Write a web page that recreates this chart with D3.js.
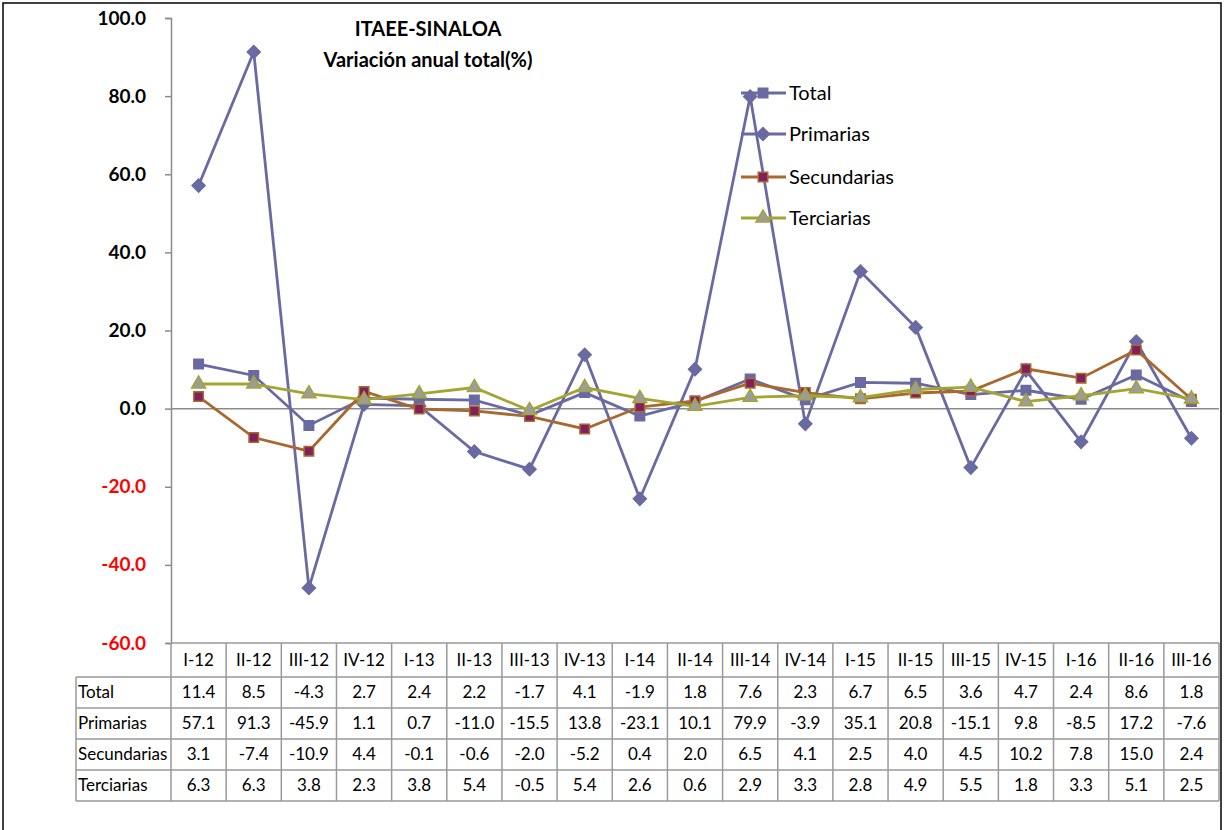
<!DOCTYPE html>
<html>
<head>
<meta charset="utf-8">
<script src="https://d3js.org/d3.v7.min.js"></script>
<style>
  body { margin: 0; background: #fff; }
  svg text { font-family: Lato, "Open Sans", sans-serif; }
</style>
</head>
<body>
<div class="chart"></div>
<script>
// quarters on the x axis
const quarters = ["I-12", "II-12", "III-12", "IV-12", "I-13", "II-13", "III-13", "IV-13",
  "I-14", "II-14", "III-14", "IV-14", "I-15", "II-15", "III-15", "IV-15", "I-16", "II-16", "III-16"];

const total = [11.4, 8.5, -4.3, 2.7, 2.4, 2.2, -1.7, 4.1, -1.9, 1.8, 7.6, 2.3, 6.7, 6.5, 3.6, 4.7, 2.4, 8.6, 1.8];
const primarias = [57.1, 91.3, -45.9, 1.1, 0.7, -11.0, -15.5, 13.8, -23.1, 10.1, 79.9, -3.9, 35.1, 20.8, -15.1, 9.8, -8.5, 17.2, -7.6];
const secundarias = [3.1, -7.4, -10.9, 4.4, -0.1, -0.6, -2.0, -5.2, 0.4, 2.0, 6.5, 4.1, 2.5, 4.0, 4.5, 10.2, 7.8, 15.0, 2.4];
const terciarias = [6.3, 6.3, 3.8, 2.3, 3.8, 5.4, -0.5, 5.4, 2.6, 0.6, 2.9, 3.3, 2.8, 4.9, 5.5, 1.8, 3.3, 5.1, 2.5];

const yTicks = [-60, -40, -20, 0, 20, 40, 60, 80, 100];

const series = [
  { name: "Total", values: total, line: "#6A6AA2", marker: "square", fill: "#6A6AA2", stroke: "#6A6AA2" },
  { name: "Primarias", values: primarias, line: "#6A6AA2", marker: "diamond", fill: "#6A6AA2", stroke: "#6A6AA2" },
  { name: "Secundarias", values: secundarias, line: "#A8682E", marker: "square", fill: "#80205E", stroke: "#A8682E" },
  { name: "Terciarias", values: terciarias, line: "#A3A533", marker: "triangle", fill: "#9C9C9C", stroke: "#A3A533" }
];

// excel style numbers, plain hyphen for negatives
const fmt = d => d3.format(".1f")(d).replace("\u2212", "-");

const width = 1225, height = 830;
const svg = d3.select(".chart").append("svg")
  .attr("width", width)
  .attr("height", height);

// outer frame
svg.append("rect")
  .attr("x", 3).attr("y", 3)
  .attr("width", 1218).attr("height", 840)
  .attr("fill", "none")
  .attr("stroke", "#000")
  .attr("stroke-width", 1.5);

const x = d3.scaleBand().domain(quarters).range([171, 1219]);
const y = d3.scaleLinear().domain([-60, 100]).range([643, 18]);

// y axis
const yAxis = svg.append("g")
  .attr("transform", "translate(171,0)")
  .call(d3.axisLeft(y).tickValues(yTicks).tickSize(6).tickPadding(19).tickFormat(fmt));
yAxis.select(".domain").attr("stroke", "#8c8c8c").attr("stroke-width", 1.5);
yAxis.selectAll(".tick line").attr("stroke", "#8c8c8c").attr("stroke-width", 1.5);
yAxis.selectAll(".tick text")
  .attr("font-size", 19)
  .attr("font-weight", "bold")
  .attr("fill", d => d < 0 ? "#FF0000" : "#000");

// zero line
svg.append("line")
  .attr("x1", 171).attr("x2", 1219)
  .attr("y1", y(0)).attr("y2", y(0))
  .attr("stroke", "#8c8c8c").attr("stroke-width", 1.5);

// data table
const rowTop = [643, 677, 708, 739, 770, 801];
const grid = svg.append("g").attr("stroke", "#999").attr("stroke-width", 1.5);
grid.append("line").attr("x1", 171).attr("x2", 1219).attr("y1", rowTop[0]).attr("y2", rowTop[0]);
rowTop.slice(1).forEach(r => {
  grid.append("line").attr("x1", 76).attr("x2", 1219).attr("y1", r).attr("y2", r);
});
quarters.forEach(q => {
  grid.append("line").attr("x1", x(q)).attr("x2", x(q)).attr("y1", 643).attr("y2", 801);
});
grid.append("line").attr("x1", 1219).attr("x2", 1219).attr("y1", 643).attr("y2", 801);
grid.append("line").attr("x1", 76).attr("x2", 76).attr("y1", 677).attr("y2", 801);

svg.selectAll(".qlabel")
  .data(quarters)
  .enter()
  .append("text")
  .attr("class", "qlabel")
  .attr("x", d => x(d) + x.bandwidth() / 2)
  .attr("y", 666)
  .attr("text-anchor", "middle")
  .attr("font-size", 17)
  .text(d => d);

series.forEach((s, i) => {
  const yy = rowTop[i + 1] + 21;
  svg.append("text")
    .attr("x", 78).attr("y", yy)
    .attr("font-size", 17)
    .text(s.name);
  svg.selectAll(".cell" + i)
    .data(s.values)
    .enter()
    .append("text")
    .attr("x", (d, j) => x(quarters[j]) + x.bandwidth() / 2)
    .attr("y", yy)
    .attr("text-anchor", "middle")
    .attr("font-size", 17)
    .text(fmt);
});

// lines and markers
const line = d3.line()
  .x((d, j) => x(quarters[j]) + x.bandwidth() / 2)
  .y(d => y(d));

const markerPath = {
  square: d3.symbol().type(d3.symbolSquare).size(90)(),
  diamond: "M0,-6.5L6.5,0L0,6.5L-6.5,0Z",
  triangle: d3.symbol().type(d3.symbolTriangle).size(85)()
};

function marker(g, s) {
  return g.append("path")
    .attr("d", markerPath[s.marker])
    .attr("fill", s.fill)
    .attr("stroke", s.stroke)
    .attr("stroke-width", 1.5);
}

series.forEach(s => {
  svg.append("path")
    .datum(s.values)
    .attr("d", line)
    .attr("fill", "none")
    .attr("stroke", s.line)
    .attr("stroke-width", 2.8);
  s.values.forEach((v, j) => {
    const g = svg.append("g")
      .attr("transform", "translate(" + (x(quarters[j]) + x.bandwidth() / 2) + "," + y(v) + ")");
    marker(g, s);
  });
});

// title
svg.append("text")
  .attr("x", 428).attr("y", 36)
  .attr("text-anchor", "middle")
  .attr("font-size", 20).attr("font-weight", "bold")
  .text("ITAEE-SINALOA");
svg.append("text")
  .attr("x", 428).attr("y", 67)
  .attr("text-anchor", "middle")
  .attr("font-size", 20).attr("font-weight", "bold")
  .text("Variación anual total(%)");

// legend
const legendY = [93, 134, 177, 218];
series.forEach((s, i) => {
  const g = svg.append("g").attr("transform", "translate(0," + legendY[i] + ")");
  g.append("line")
    .attr("x1", 741).attr("x2", 786)
    .attr("stroke", s.line).attr("stroke-width", 2.8);
  const m = g.append("g").attr("transform", "translate(763,0)");
  marker(m, s);
  g.append("text")
    .attr("x", 789).attr("y", 7)
    .attr("font-size", 20)
    .text(s.name);
});
</script>
</body>
</html>
